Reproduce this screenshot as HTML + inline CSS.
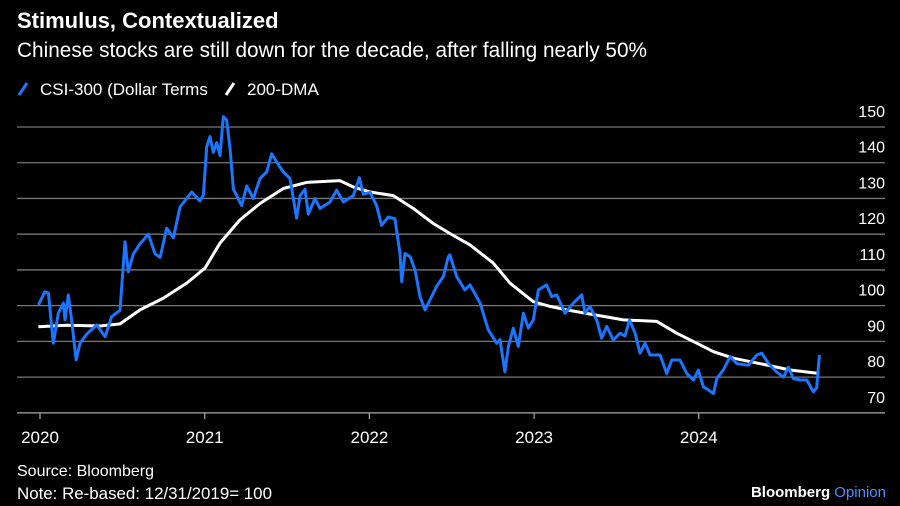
<!DOCTYPE html>
<html><head><meta charset="utf-8"><style>
html,body{margin:0;padding:0;background:#000;}
svg{display:block;font-family:"Liberation Sans",Arial,sans-serif;}
</style></head><body>
<svg id="chart" width="900" height="506" viewBox="0 0 900 506">
<text x="17" y="28" fill="#fff" font-size="22" font-weight="bold">Stimulus, Contextualized</text>
<text x="17" y="57" fill="#fff" font-size="20.8">Chinese stocks are still down for the decade, after falling nearly 50%</text>
<g>
<g><line x1="19" y1="95" x2="27" y2="83" stroke="#1a75ff" stroke-width="3"/><text x="40" y="95" fill="#fff" font-size="17">CSI-300 (Dollar Terms</text></g>
<g><line x1="226" y1="95" x2="234" y2="83" stroke="#fff" stroke-width="3"/><text x="247" y="95" fill="#fff" font-size="17">200-DMA</text></g>
</g>
<g id="grid"></g>
<g id="yticks"></g>
<g id="xticks"></g>
<g id="series"></g>
<text x="17" y="476" fill="#fff" font-size="16">Source: Bloomberg</text>
<text x="17" y="499" fill="#fff" font-size="16.9">Note: Re-based: 12/31/2019= 100</text>
<text x="886" y="497" text-anchor="end" font-size="15"><tspan fill="#fff" font-weight="bold">Bloomberg</tspan><tspan fill="#4d8dff"> Opinion</tspan></text>
</svg>
<script>
const yTicks=[150,140,130,120,110,100,90,80,70];
const xTickYears=[2020,2021,2022,2023,2024];
const csiDates=[-0.010,0.030,0.051,0.081,0.111,0.142,0.152,0.172,0.192,0.219,0.243,0.283,0.344,0.395,0.435,0.486,0.516,0.536,0.567,0.607,0.658,0.698,0.729,0.769,0.810,0.850,0.921,0.971,0.992,1.012,1.032,1.052,1.073,1.093,1.113,1.133,1.154,1.174,1.194,1.224,1.255,1.295,1.336,1.376,1.407,1.437,1.477,1.518,1.558,1.579,1.609,1.629,1.670,1.700,1.761,1.801,1.842,1.902,1.939,1.963,2.004,2.044,2.074,2.115,2.155,2.186,2.196,2.216,2.247,2.277,2.307,2.338,2.368,2.408,2.449,2.479,2.489,2.530,2.580,2.611,2.672,2.722,2.773,2.793,2.823,2.844,2.874,2.904,2.935,2.965,2.995,3.026,3.076,3.107,3.137,3.188,3.238,3.289,3.309,3.339,3.380,3.410,3.441,3.481,3.522,3.552,3.579,3.613,3.643,3.674,3.704,3.765,3.805,3.836,3.886,3.927,3.967,3.997,4.028,4.058,4.089,4.109,4.149,4.190,4.230,4.271,4.301,4.352,4.382,4.423,4.473,4.514,4.544,4.574,4.615,4.655,4.696,4.716,4.732];
const csiValues=[100.2,103.9,103.5,89.5,97.9,100.7,96,103,96,84.8,89.5,92,94.6,91.3,96.9,98.7,117.9,109.5,114.5,117.3,120,114.5,113.5,121.7,119,127.6,131.8,129.3,131,144.5,147.3,142.9,145.6,142,152.9,152,143.8,132.6,130.8,128,133.5,130,135.6,137.4,142.5,140.2,137.4,135.6,124.5,130.8,132.6,125.6,130,127.2,129,132.3,129,130.8,135.8,131.2,131.7,128,122.5,124.8,124.3,114.6,106.7,114.6,113.7,110,102.5,98.8,101.6,105.4,108.2,113.7,114.2,108.1,104.4,105.8,100.7,93.2,89.5,90.5,81.5,88.6,93.7,88.6,97.9,93.7,96,104.4,105.8,102.5,103,97.9,100.7,103,97.9,99.8,96,90.9,94.2,90.4,92.3,91.5,96,92.3,86.7,89.5,86.2,86.2,81,84.8,84.8,81,79.2,82,77.3,76.4,75.4,79.6,82,85.7,83.8,83.5,83.3,86.2,86.7,83.8,81.4,80,82.8,79.6,79.2,79.2,75.9,77,86.2];
const dmaDates=[-0.010,0.162,0.364,0.486,0.607,0.749,0.891,1.002,1.093,1.214,1.336,1.477,1.619,1.821,1.902,2.004,2.145,2.267,2.388,2.489,2.611,2.752,2.853,2.995,3.097,3.198,3.360,3.542,3.745,3.866,3.988,4.089,4.210,4.412,4.554,4.732];
const dmaValues=[94.1,94.5,94.3,94.9,98.8,102.1,106.3,110.5,117.5,124,128.6,132.8,134.5,135,133.2,131.8,130.8,127.2,123,120.2,117,111.9,106.3,101.1,99.8,98.8,97.5,96,95.6,92.3,89.5,87.1,85.3,83.4,82,81];

const NS="http://www.w3.org/2000/svg";
const X=t=>40+t*164.7;
const Y=v=>127+(150-v)*3.573;
const grid=document.getElementById('grid');
const yg=document.getElementById('yticks');
yTicks.forEach(v=>{
  const l=document.createElementNS(NS,'line');
  l.setAttribute('x1',17);l.setAttribute('x2',885);
  l.setAttribute('y1',Y(v));l.setAttribute('y2',Y(v));
  l.setAttribute('stroke',v===70?'#aaa':'#777');l.setAttribute('stroke-width',1.3);
  
  
  grid.appendChild(l);
  const t=document.createElementNS(NS,'text');
  t.setAttribute('x',885);t.setAttribute('y',Y(v)-10);
  t.setAttribute('text-anchor','end');t.setAttribute('fill','#fff');t.setAttribute('font-size','16');
  t.textContent=v;
  
  
  yg.appendChild(t);
});
const xg=document.getElementById('xticks');
xTickYears.forEach(yr=>{
  const x=X(yr-2020);
  const l=document.createElementNS(NS,'line');
  l.setAttribute('x1',x);l.setAttribute('x2',x);l.setAttribute('y1',413);l.setAttribute('y2',419);
  l.setAttribute('stroke','#aaa');l.setAttribute('stroke-width',1.2);
  
  
  xg.appendChild(l);
  const t=document.createElementNS(NS,'text');
  t.setAttribute('x',x);t.setAttribute('y',443);t.setAttribute('text-anchor','middle');
  t.setAttribute('fill','#fff');t.setAttribute('font-size','17');
  t.textContent=yr;
  
  
  xg.appendChild(t);
});
const sg=document.getElementById('series');
function path(d,v,color){
  const p=document.createElementNS(NS,'path');
  p.setAttribute('d',d.map((t,i)=>(i?'L':'M')+X(t).toFixed(1)+','+Y(v[i]).toFixed(1)).join(''));
  p.setAttribute('fill','none');p.setAttribute('stroke',color);p.setAttribute('stroke-width',3);
  p.setAttribute('stroke-linejoin','round');
  return p;
}
const dma=path(dmaDates,dmaValues,'#fff');


sg.appendChild(dma);
const csi=path(csiDates,csiValues,'#1a75ff');


sg.appendChild(csi);
</script>
</body></html>
